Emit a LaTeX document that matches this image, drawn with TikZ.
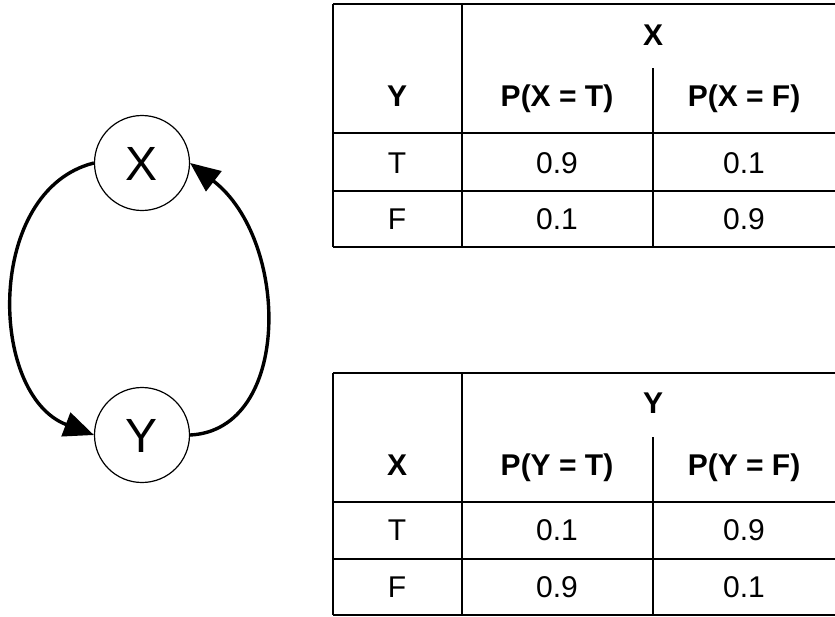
\documentclass[tikz,border=0pt]{standalone}
\usepackage{fontspec}
\setmainfont{Liberation Sans}
\usetikzlibrary{arrows.meta}
\begin{document}
\begin{tikzpicture}[x=1pt,y=-1pt,
  var/.style={draw,circle,minimum size=95pt,inner sep=0pt,line width=1.2pt,font=\fontsize{48}{52}\selectfont},
  letter/.style={inner sep=0pt,text height=34.5pt,text depth=0pt,font=\fontsize{48}{52}\selectfont},
  edge/.style={line width=3.4pt,-{Triangle[length=30pt,width=25pt]}},
  grid/.style={line width=1.3pt},
  thickrule/.style={line width=2.8pt},
  cell/.style={font=\fontsize{30}{34}\selectfont,inner sep=0pt,text height=21.5pt,text depth=0pt},
  head/.style={font=\fontsize{30}{34}\selectfont\bfseries,inner sep=0pt,text height=21.5pt,text depth=0pt}]
\useasboundingbox (0,0) rectangle (835,616);
% graph
\node[var] (X) at (142,163) {};
\node[var] (Y) at (142,435) {};
\node[letter] (Xl) at (X.center) {X};
\node[letter] (Yl) at (Y.center) {Y};
\draw[edge] (X.west) .. controls (-15,190) and (-12,395) .. (Y.west);
\draw[edge] (Y.east) .. controls (292,430) and (290,240) .. (X.east);
% top table
\draw[grid] (333,4) -- (835,4);
\draw[grid] (333,4) -- (333,247);
\draw[grid] (462,4) -- (462,247);
\draw[grid] (653,68) -- (653,247);
\draw[thickrule] (333,133) -- (835,133);
\draw[grid] (333,191) -- (835,191);
\draw[grid] (333,247) -- (835,247);
\node[head] (tXh) at (653,35) {X};
\node[head] (tY) at (397,96) {Y};
\node[head] (tPT) at (557,96) {P(X = T)};
\node[head] (tPF) at (744,96) {P(X = F)};
\node[cell] (tT) at (397,163) {T};
\node[cell] (t11) at (557,163) {0.9};
\node[cell] (t12) at (744,163) {0.1};
\node[cell] (tF) at (397,219) {F};
\node[cell] (t21) at (557,219) {0.1};
\node[cell] (t22) at (744,219) {0.9};
% bottom table
\draw[grid] (333,373) -- (835,373);
\draw[grid] (333,373) -- (333,615);
\draw[grid] (462,373) -- (462,615);
\draw[grid] (653,437) -- (653,615);
\draw[thickrule] (333,502) -- (835,502);
\draw[grid] (333,559) -- (835,559);
\draw[grid] (333,615) -- (835,615);
\node[head] (bYh) at (653,403) {Y};
\node[head] (bX) at (397,465) {X};
\node[head] (bPT) at (557,465) {P(Y = T)};
\node[head] (bPF) at (744,465) {P(Y = F)};
\node[cell] (bT) at (397,530) {T};
\node[cell] (b11) at (557,530) {0.1};
\node[cell] (b12) at (744,530) {0.9};
\node[cell] (bF) at (397,587) {F};
\node[cell] (b21) at (557,587) {0.9};
\node[cell] (b22) at (744,587) {0.1};
\end{tikzpicture}
\end{document}
